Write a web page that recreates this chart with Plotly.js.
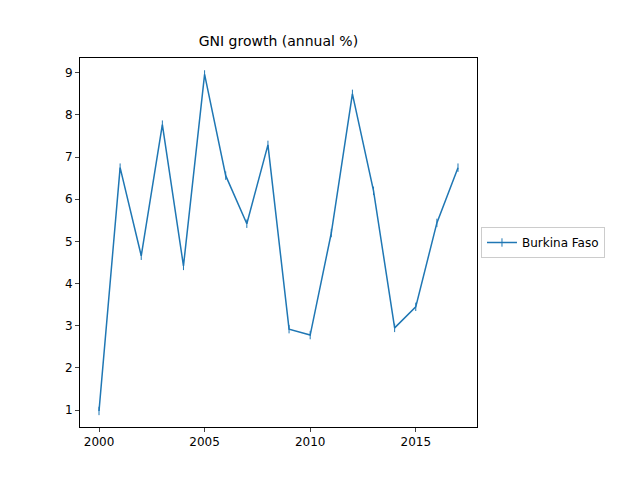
<!DOCTYPE html>
<html><head><script src="https://cdn.plot.ly/plotly-3.0.1.min.js"></script></head>
<body style="margin:0">
<div id="c" style="width:640px;height:480px"></div>
<script>
const years=[2000,2001,2002,2003,2004,2005,2006,2007,2008,2009,2010,2011,2012,2013,2014,2015,2016,2017];
const gni=[0.98,6.75,4.66,7.77,4.42,8.96,6.56,5.42,7.29,2.92,2.78,5.2,8.5,6.2,2.95,3.45,5.44,6.75];
Plotly.newPlot('c',[{x:years,y:gni,type:'scatter',mode:'lines+markers',name:'Burkina Faso',
 line:{color:'#1f77b4',width:1.5},marker:{symbol:'line-ns',size:6,line:{color:'#1f77b4',width:1}}}],
{width:640,height:480,margin:{l:80,r:163,t:58,b:53},paper_bgcolor:'white',plot_bgcolor:'white',
 font:{family:'DejaVu Sans',size:12,color:'black'},
 title:{text:'GNI growth (annual %)',x:0.435,y:0.925,font:{size:14}},
 xaxis:{range:[1999.1,2017.9],tickvals:[2000,2005,2010,2015],showgrid:false,zeroline:false,showline:true,mirror:true,linecolor:'black',ticks:'outside',ticklen:4},
 yaxis:{range:[0.6,9.35],tickvals:[1,2,3,4,5,6,7,8,9],showgrid:false,zeroline:false,showline:true,mirror:true,linecolor:'black',ticks:'outside',ticklen:4},
 showlegend:true,legend:{x:1.01,y:0.5,yanchor:'middle',bordercolor:'#ccc',borderwidth:1,font:{size:12}}
},{displayModeBar:false});
</script></body></html>
